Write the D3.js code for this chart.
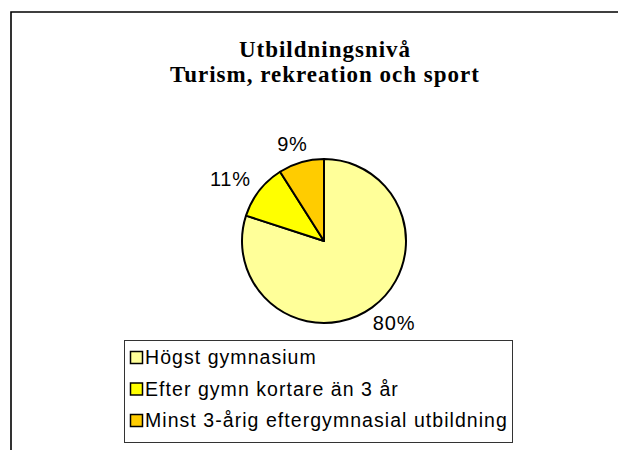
<!DOCTYPE html>
<html><head><meta charset="utf-8">
<script src="https://cdn.jsdelivr.net/npm/d3@7"></script>
<style>html,body{margin:0;padding:0;background:#fff;overflow:hidden}</style>
</head><body>
<svg id="c" width="618" height="450"></svg>
<script>
const titleLines = ["Utbildningsnivå", "Turism, rekreation och sport"];
const categories = ["Högst gymnasium", "Efter gymn kortare än 3 år", "Minst 3-årig eftergymnasial utbildning"];
const values = [80, 11, 9];
const labels = ["80%", "11%", "9%"];
const colors = ["#FFFF99", "#FFFF00", "#FFCC00"];

const svg = d3.select("#c");
svg.append("path").attr("d", "M11,450 L11,12 L618,12").attr("fill", "none").attr("stroke", "#000").attr("stroke-width", 1.6);

svg.append("g").selectAll("text").data(titleLines).join("text")
  .attr("x", 325).attr("y", (d, i) => 57 + i * 25)
  .attr("text-anchor", "middle")
  .attr("font-family", "'Liberation Serif', 'Times New Roman', serif")
  .attr("font-weight", "bold").attr("font-size", 23)
  .attr("letter-spacing", 1)
  .text(d => d);

const cx = 324, cy = 241, R = 82;
const pie = d3.pie().sort(null).value(d => d)(values);
const arc = d3.arc().innerRadius(0).outerRadius(R);
const labelArc = d3.arc().innerRadius(R + 12).outerRadius(R + 12);
const g = svg.append("g").attr("transform", `translate(${cx},${cy})`);
g.selectAll("path").data(pie).join("path")
  .attr("d", arc).attr("fill", (d, i) => colors[i])
  .attr("stroke", "#000").attr("stroke-width", 2).attr("stroke-linejoin", "round");
g.selectAll("text").data(pie).join("text")
  .attr("text-anchor", "middle").attr("dy", "0.36em")
  .attr("font-family", "Arial, 'Liberation Sans', sans-serif").attr("font-size", 20)
  .attr("letter-spacing", 0.8)
  .text((d, i) => labels[i])
  .each(function (d) {
    const bb = this.getBBox();
    const [px, py] = labelArc.centroid(d);
    const a = (d.startAngle + d.endAngle) / 2;
    const ux = Math.sin(a), uy = -Math.cos(a);
    d3.select(this).attr("transform", `translate(${px + ux * (bb.width / 2 + 4)},${py + uy * 7.5})`);
  });

const lg = svg.append("g");
lg.append("rect").attr("x", 124.5).attr("y", 340.5).attr("width", 388).attr("height", 102)
  .attr("fill", "#fff").attr("stroke", "#333").attr("stroke-width", 1);
const rows = lg.selectAll("g.row").data(categories).join("g").attr("class", "row")
  .attr("transform", (d, i) => `translate(0,${357 + i * 31.5})`);
rows.append("rect").attr("x", 130.5).attr("y", -5.5).attr("width", 12).attr("height", 12)
  .attr("fill", (d, i) => colors[i]).attr("stroke", "#000").attr("stroke-width", 1.5);
rows.append("text").attr("x", 145).attr("y", 0).attr("dy", "0.36em")
  .attr("font-family", "Arial, 'Liberation Sans', sans-serif").attr("font-size", 19.5)
  .attr("letter-spacing", 1.05)
  .text(d => d);
</script>
</body></html>
